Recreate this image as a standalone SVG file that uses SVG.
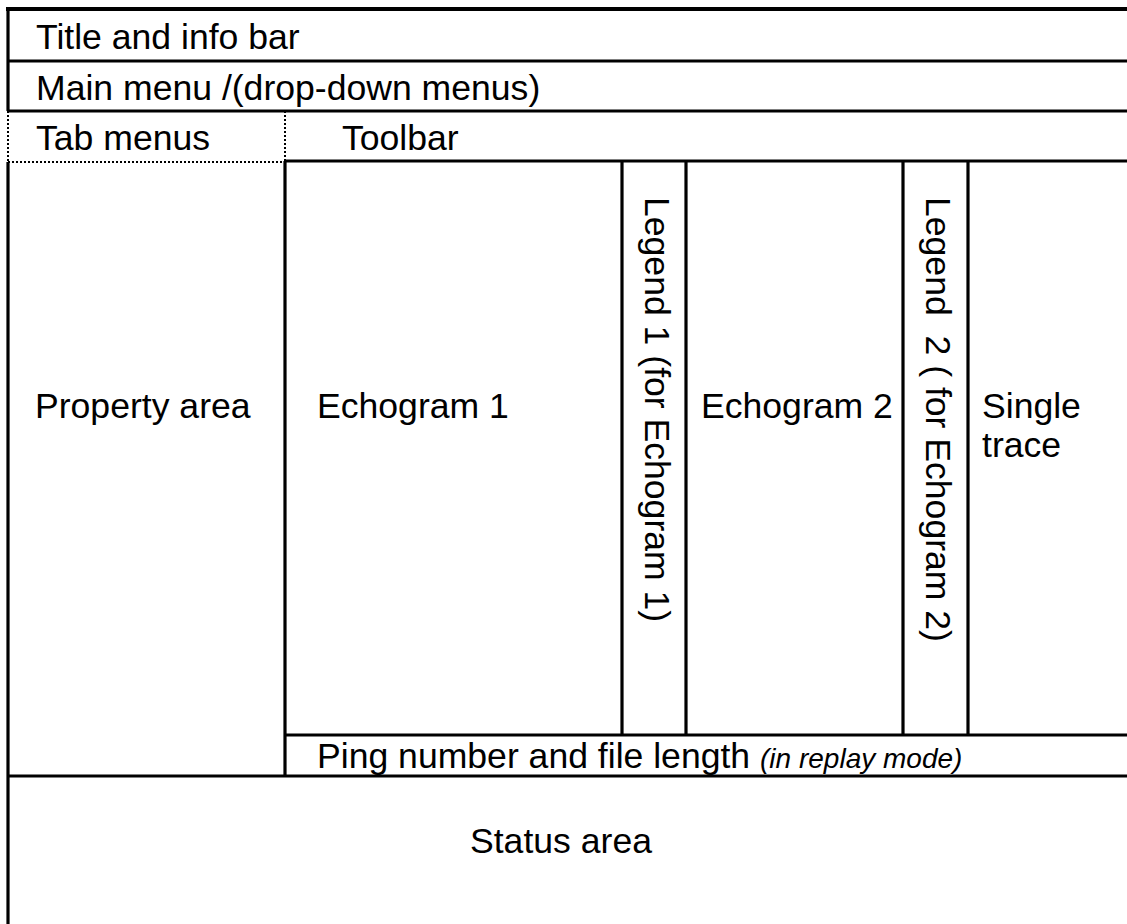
<svg xmlns="http://www.w3.org/2000/svg" width="1127" height="924" viewBox="0 0 1127 924">
<style>
.ln{stroke:#000;stroke-width:3.2;fill:none}
.thick{stroke:#000;stroke-width:4;fill:none}
.dot{stroke:#000;stroke-width:2;stroke-dasharray:2 2;fill:none}
text{font-family:"Liberation Sans",Arial,sans-serif;font-size:35.6px;fill:#000}
.it{font-style:italic;font-size:28px}
.pre{white-space:pre}
</style>
<rect width="1127" height="924" fill="#fff"/>
<g id="connectors">
<line class="thick" x1="6" y1="9" x2="1127" y2="9"/>
<line class="ln" x1="8" y1="7" x2="8" y2="111"/>
<line class="dot" x1="8" y1="111" x2="8" y2="162"/>
<line class="ln" x1="8" y1="162" x2="8" y2="924"/>
<line class="ln" x1="8" y1="61" x2="1127" y2="61"/>
<line class="ln" x1="8" y1="111" x2="1127" y2="111"/>
<line class="dot" x1="8" y1="162" x2="285" y2="162"/>
<line class="dot" x1="285" y1="111" x2="285" y2="162"/>
<line class="ln" x1="285" y1="161" x2="285" y2="776"/>
<line class="ln" x1="285" y1="161" x2="1127" y2="161"/>
<line class="ln" x1="622" y1="161" x2="622" y2="735"/>
<line class="ln" x1="686" y1="161" x2="686" y2="735"/>
<line class="ln" x1="903" y1="161" x2="903" y2="735"/>
<line class="ln" x1="968" y1="161" x2="968" y2="735"/>
<line class="ln" x1="285" y1="735" x2="1127" y2="735"/>
<line class="ln" x1="8" y1="776" x2="1127" y2="776"/>
</g>
<g id="title"><text x="36" y="49">Title and info bar</text></g>
<g id="mainmenu"><text x="36" y="100">Main menu /(drop-down menus)</text></g>
<g id="tabmenus"><text x="36" y="150">Tab menus</text></g>
<g id="toolbar"><text x="342" y="150">Toolbar</text></g>
<g id="property"><text x="35" y="418">Property area</text></g>
<g id="echogram1"><text x="317" y="418">Echogram 1</text></g>
<g id="legend1"><text transform="translate(645,197) rotate(90)">Legend 1 (for Echogram 1)</text></g>
<g id="echogram2"><text x="701" y="418">Echogram 2</text></g>
<g id="legend2"><text class="pre" transform="translate(926,197) rotate(90)">Legend  2 ( for Echogram 2)</text></g>
<g id="singletrace"><text x="982" y="418">Single</text><text x="982" y="457">trace</text></g>
<g id="ping"><text x="317" y="768">Ping number and file length <tspan class="it">(in replay mode)</tspan></text></g>
<g id="status"><text x="470" y="853">Status area</text></g>
</svg>
